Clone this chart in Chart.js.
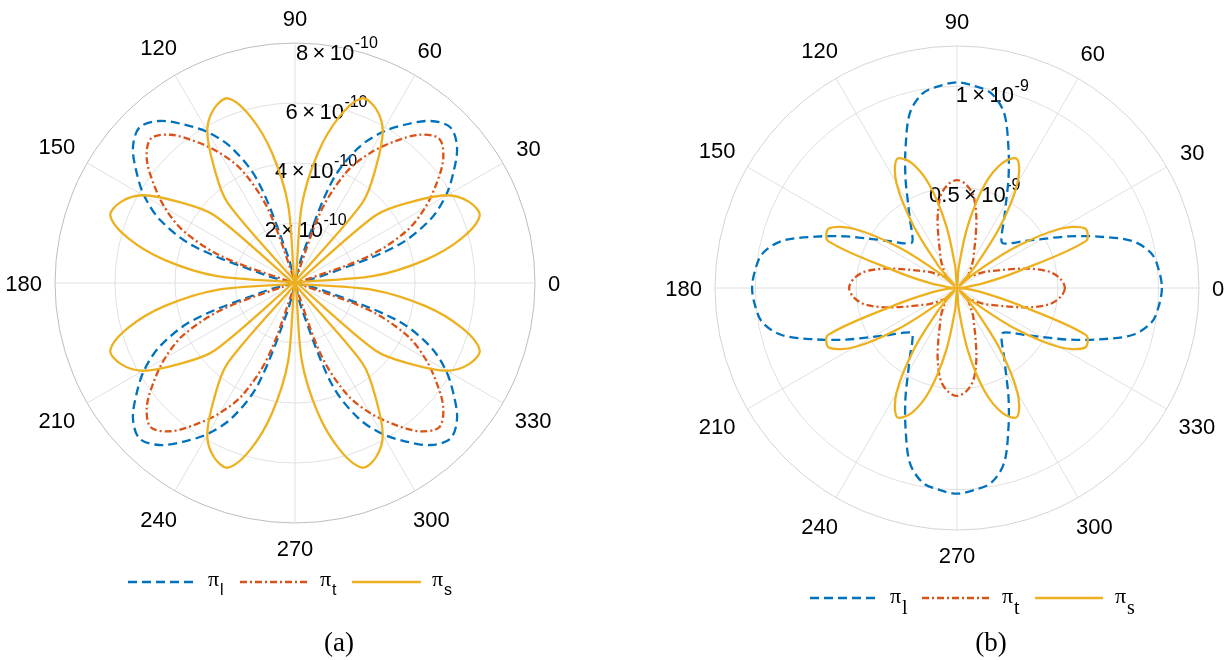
<!DOCTYPE html>
<html><head><meta charset="utf-8">
<script src="https://cdn.jsdelivr.net/npm/chart.js@4.4.1/dist/chart.umd.min.js"></script>
<style>
html,body{margin:0;padding:0;background:#fff;}
#wrap{position:relative;width:1231px;height:660px;overflow:hidden;background:#fff;}
.panel{position:absolute;top:0;height:660px;}
#pa{left:0;width:615px;}
#pb{left:615px;width:616px;}
</style></head><body>
<div id="wrap"><div class="panel" id="pa"><canvas id="ca"></canvas></div><div class="panel" id="pb"><canvas id="cb"></canvas></div></div>
<script>
// polar angle of each sample (degrees, counter-clockwise from +x)
const thetaDeg = [0,5,10,15,20,25,30,35,40,45,50,55,60,65,70,75,80,85,90,95,100,105,110,115,120,125,130,135,140,145,150,155,160,165,170,175,180,185,190,195,200,205,210,215,220,225,230,235,240,245,250,255,260,265,270,275,280,285,290,295,300,305,310,315,320,325,330,335,340,345,350,355];
const thetaTickDeg = [0,30,60,90,120,150,180,210,240,270,300,330];

// ---- panel (a): radius in units of 1e-10 ----
const a_rTicks = [2,4,6,8];
const a_rTickText = ['2','4','6','8'];
const a_rExp = '-10';
const a_rMax = 8;
const a_piL = [0,0,0.1,1.0,3.6,4.95,5.8,6.45,7.05,7.33,7.05,6.45,5.8,4.95,3.6,1.0,0.1,0,0,
  0,0.1,1.0,3.6,4.95,5.8,6.45,7.05,7.33,7.05,6.45,5.8,4.95,3.6,1.0,0.1,0,0,
  0,0.1,1.0,3.6,4.95,5.8,6.45,7.05,7.33,7.05,6.45,5.8,4.95,3.6,1.0,0.1,0,0,
  0,0.1,1.0,3.6,4.95,5.8,6.45,7.05,7.33,7.05,6.45,5.8,4.95,3.6,1.0,0.1,0];
const a_piT = [0,0,0,0.2,2.6,4.1,5.0,5.75,6.45,6.8,6.45,5.75,5.0,4.1,2.6,0.2,0,0,0,
  0,0,0.2,2.6,4.1,5.0,5.75,6.45,6.8,6.45,5.75,5.0,4.1,2.6,0.2,0,0,0,
  0,0,0.2,2.6,4.1,5.0,5.75,6.45,6.8,6.45,5.75,5.0,4.1,2.6,0.2,0,0,0,
  0,0,0.2,2.6,4.1,5.0,5.75,6.45,6.8,6.45,5.75,5.0,4.1,2.6,0.2,0,0];
const a_piS = [0,2.6,4.4,5.75,6.55,6.4,5.85,4.7,3.5,0,3.5,4.7,5.85,6.4,6.55,5.75,4.4,2.6,0,
  2.6,4.4,5.75,6.55,6.4,5.85,4.7,3.5,0,3.5,4.7,5.85,6.4,6.55,5.75,4.4,2.6,0,
  2.6,4.4,5.75,6.55,6.4,5.85,4.7,3.5,0,3.5,4.7,5.85,6.4,6.55,5.75,4.4,2.6,0,
  2.6,4.4,5.75,6.55,6.4,5.85,4.7,3.5,0,3.5,4.7,5.85,6.4,6.55,5.75,4.4,2.6];

// ---- panel (b): radius in units of 1e-9 ----
const b_rTicks = [0.5,1];
const b_rTickText = ['0.5','1'];
const b_rExp = '-9';
const b_rMax = 1.2;
const b_piL = [1.016,1.005,0.98,0.9,0.745,0.605,0.485,0.405,0.345,0.317,0.345,0.405,0.485,0.605,0.745,0.9,0.98,1.005,1.02,
  1.005,0.98,0.9,0.745,0.605,0.485,0.405,0.345,0.317,0.345,0.405,0.485,0.605,0.745,0.9,0.98,1.005,1.016,
  1.005,0.98,0.9,0.745,0.605,0.485,0.405,0.345,0.317,0.345,0.405,0.485,0.605,0.745,0.9,0.98,1.005,1.02,
  1.005,0.98,0.9,0.745,0.605,0.485,0.405,0.345,0.317,0.345,0.405,0.485,0.605,0.745,0.9,0.98,1.005];
const b_piT = [0.535,0.515,0.465,0.37,0.27,0.2,0.16,0.12,0.09,0.08,0.09,0.12,0.16,0.2,0.27,0.37,0.465,0.515,0.535,
  0.515,0.465,0.37,0.27,0.2,0.16,0.12,0.09,0.08,0.09,0.12,0.16,0.2,0.27,0.37,0.465,0.515,0.535,
  0.515,0.465,0.37,0.27,0.2,0.16,0.12,0.09,0.08,0.09,0.12,0.16,0.2,0.27,0.37,0.465,0.515,0.535,
  0.515,0.465,0.37,0.27,0.2,0.16,0.12,0.09,0.08,0.09,0.12,0.16,0.2,0.27,0.37,0.465,0.515];
const b_piS = [0,0.04,0.13,0.3,0.68,0.7,0.585,0.35,0.12,0.02,0.14,0.375,0.6,0.705,0.66,0.53,0.32,0.11,0,
  0.11,0.32,0.53,0.66,0.705,0.6,0.375,0.14,0.02,0.12,0.35,0.585,0.7,0.68,0.3,0.13,0.04,0,
  0.04,0.13,0.3,0.68,0.7,0.585,0.35,0.12,0.02,0.14,0.375,0.6,0.705,0.66,0.53,0.32,0.11,0,
  0.11,0.32,0.53,0.66,0.705,0.6,0.375,0.14,0.02,0.12,0.35,0.585,0.7,0.68,0.3,0.13,0.04];

const seriesNames = [['\u03C0','l'],['\u03C0','t'],['\u03C0','s']];
const seriesColors = ['#0072BD','#D95319','#EDB120'];
const seriesDash = [[9,5],[7,3,2,3],[]];

const SANS = "'Liberation Sans', Arial, Helvetica, sans-serif";
const SERIF = "'Liberation Serif', 'Times New Roman', serif";

// radar index i sits at clockwise angle 5*i from +x, i.e. polar angle -5*i
function toRadar(arr){ const n = arr.length; return arr.map((_, i) => arr[(n - i) % n]); }
const radarLabels = toRadar(thetaDeg).map(String);

function drawSci(ctx, mant, exp, cx, cy){
  const big = '22px ' + SANS, small = '16px ' + SANS;
  const main = mant + '\u2009\u00D7\u200910';
  ctx.font = big; const w1 = ctx.measureText(main).width;
  ctx.font = small; const w2 = ctx.measureText(exp).width;
  const x0 = cx - (w1 + w2) / 2;
  ctx.textAlign = 'left'; ctx.textBaseline = 'alphabetic';
  ctx.font = big; ctx.fillText(main, x0, cy + 13);
  ctx.font = small; ctx.fillText(exp, x0 + w1 + 0.5, cy + 1.5);
}

const decor = {
  id: 'decor',
  beforeDatasetsDraw(chart, args, o){
    const s = chart.scales.r, ctx = chart.ctx;
    ctx.save(); ctx.fillStyle = '#000';
    const a = o.rLabelAngle * Math.PI / 180;
    o.rTicks.forEach((v, i) => {
      const d = s.getDistanceFromCenterForValue(v);
      drawSci(ctx, o.rTickText[i], o.rExp, s.xCenter + d * Math.cos(a), s.yCenter - d * Math.sin(a));
    });
    ctx.restore();
  },
  afterDraw(chart, args, o){
    const s = chart.scales.r, ctx = chart.ctx;
    ctx.save(); ctx.fillStyle = '#000';
    // angle labels
    ctx.font = '22px ' + SANS; ctx.textAlign = 'center'; ctx.textBaseline = 'alphabetic';
    const R = s.drawingArea;
    o.thetaTicks.forEach(t => {
      const rad = t * Math.PI / 180, txt = String(t);
      const w = ctx.measureText(txt).width;
      const d = R + o.labelGap + Math.abs(Math.cos(rad)) * w / 2 + Math.abs(Math.sin(rad)) * 12;
      ctx.fillText(txt, s.xCenter + d * Math.cos(rad), s.yCenter - d * Math.sin(rad) + 8);
    });
    // legend
    const L = o.legend;
    chart.data.datasets.forEach((ds, i) => {
      const x = L.x[i];
      ctx.save();
      ctx.strokeStyle = ds.borderColor; ctx.lineWidth = 2.3; ctx.setLineDash(ds.borderDash || []);
      ctx.beginPath(); ctx.moveTo(x, L.y); ctx.lineTo(x + L.len, L.y); ctx.stroke();
      ctx.restore();
      const nm = seriesNames[i];
      ctx.textAlign = 'left'; ctx.textBaseline = 'alphabetic';
      ctx.font = L.piFont; const tx = x + L.len + L.textGap;
      ctx.fillText(nm[0], tx, L.y + L.piDy);
      const pw = ctx.measureText(nm[0]).width;
      ctx.font = L.subFont; ctx.fillText(nm[1], tx + pw + 1, L.y + L.subDy);
    });
    // caption
    ctx.font = '27px ' + SERIF; ctx.textAlign = 'center'; ctx.textBaseline = 'middle';
    ctx.fillText(o.caption.text, o.caption.x, o.caption.y);
    ctx.restore();
  }
};

function makePolar(id, cfg){
  const tickVals = [0, ...cfg.rTicks, cfg.rMax].filter((v, i, a) => a.indexOf(v) === i);
  return new Chart(document.getElementById(id), {
    type: 'radar',
    data: {
      labels: radarLabels,
      datasets: cfg.values.map((vals, i) => ({
        label: seriesNames[i].join('_'),
        data: toRadar(vals),
        borderColor: seriesColors[i], backgroundColor: 'rgba(0,0,0,0)',
        borderWidth: 2.3, borderDash: seriesDash[i], borderCapStyle: 'butt', borderJoinStyle: 'round',
        pointRadius: 0, pointHoverRadius: 0, pointHitRadius: 0, fill: false, tension: 0.33,
        order: 3 - i
      }))
    },
    options: {
      responsive: true, maintainAspectRatio: false, animation: false, devicePixelRatio: 1,
      layout: {padding: cfg.padding},
      events: [],
      plugins: {legend: {display: false}, tooltip: {enabled: false}, decor: cfg.decor},
      scales: {r: {
        min: 0, max: cfg.rMax, startAngle: 90,
        afterBuildTicks: sc => { sc.ticks = tickVals.map(v => ({value: v})); },
        ticks: {display: false},
        pointLabels: {display: false},
        grid: {circular: true, lineWidth: 1,
          color: c => (c.tick && c.tick.value === cfg.rMax) ? cfg.outerColor : '#e0e0e0'},
        angleLines: {display: true,
          color: c => (Number(c.label) % 30 === 0) ? '#e0e0e0' : 'rgba(0,0,0,0)',
          lineWidth: c => (Number(c.label) % 30 === 0) ? 1 : 0}
      }}
    },
    plugins: [decor]
  });
}

makePolar('ca', {
  values: [a_piL, a_piT, a_piS], rTicks: a_rTicks, rMax: a_rMax, outerColor: '#bdbdbd',
  padding: {left: 55, right: 80, top: 43, bottom: 137},
  decor: {rTicks: a_rTicks, rTickText: a_rTickText, rExp: a_rExp, rLabelAngle: 80,
    thetaTicks: thetaTickDeg, labelGap: 13,
    legend: {x: [128, 240, 352], y: 582, len: 69, textGap: 11,
      piFont: '22px ' + SERIF, subFont: '16px ' + SANS, piDy: 4, subDy: 13},
    caption: {text: '(a)', x: 339, y: 644}}
});
makePolar('cb', {
  values: [b_piL, b_piT, b_piS], rTicks: b_rTicks, rMax: b_rMax, outerColor: '#d4d4d4',
  padding: {left: 100, right: 32, top: 46, bottom: 130},
  decor: {rTicks: b_rTicks, rTickText: b_rTickText, rExp: b_rExp, rLabelAngle: 80,
    thetaTicks: thetaTickDeg, labelGap: 13,
    legend: {x: [195, 307, 420], y: 598, len: 68, textGap: 12,
      piFont: '22px ' + SERIF, subFont: '20px ' + SERIF, piDy: 5, subDy: 16},
    caption: {text: '(b)', x: 376, y: 644}}
});
</script>
</body></html>
